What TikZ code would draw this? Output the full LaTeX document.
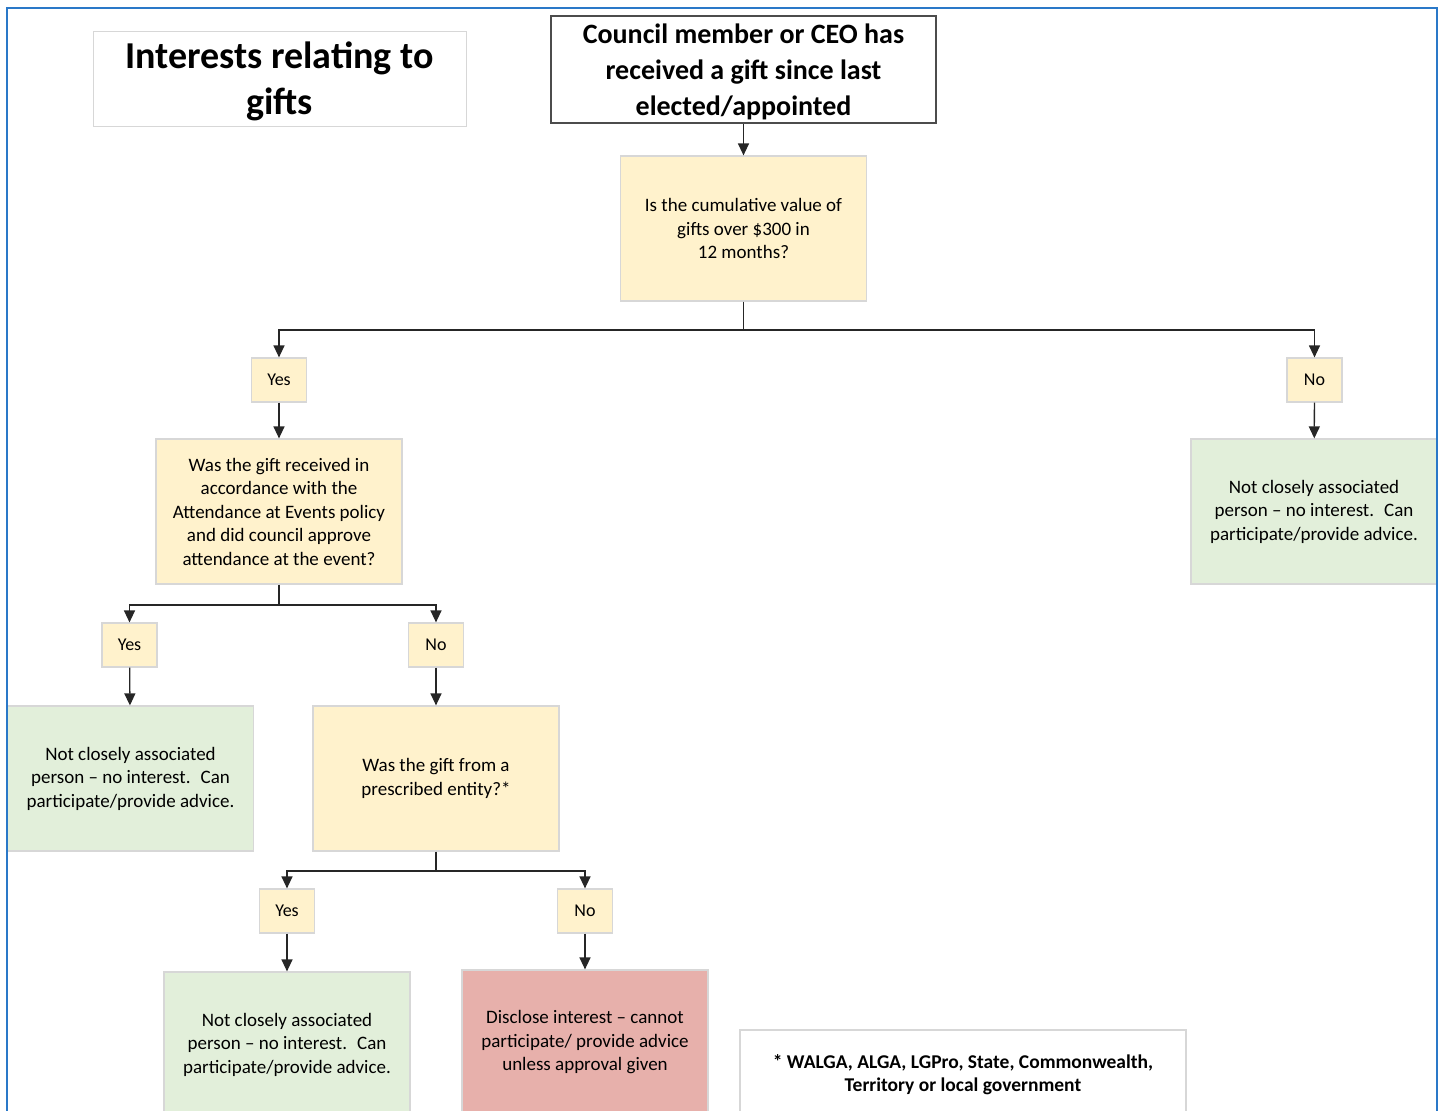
\documentclass[tikz,border=0pt]{standalone}
\usepackage{fontspec}
\setmainfont{Carlito}
\usetikzlibrary{arrows.meta}
\definecolor{qyellow}{RGB}{255,242,204}
\definecolor{okgreen}{RGB}{226,239,218}
\definecolor{stopred}{RGB}{231,176,171}
\definecolor{frameblue}{RGB}{42,120,200}
\definecolor{edgegray}{RGB}{215,215,215}

\begin{document}
\begin{tikzpicture}[x=1pt, y=-1pt,
        question/.style={rectangle, draw=edgegray, line width=1.2pt, fill=qyellow, minimum width=246pt, minimum height=145pt, align=center, font=\fontsize{19}{23.5}\selectfont},
        answer/.style={rectangle, draw=edgegray, line width=1.2pt, fill=qyellow, minimum width=55pt, minimum height=44pt, font=\fontsize{18}{20}\selectfont},
        outcome/.style={question, fill=okgreen},
        stopbox/.style={question, fill=stopred},
        flow/.style={-{Triangle[width=11pt,length=12pt]}, line width=1.3pt, draw=black!85}
    ]
        \useasboundingbox (0,0) rectangle (1444,1111);
        \clip (0,0) rectangle (1444,1111);

        % Heading and start
        \node[rectangle, draw=edgegray, line width=0.8pt, minimum width=373pt, minimum height=95pt, align=center, font=\fontsize{38}{46}\selectfont\bfseries] (title) at (279.5,78.5) {\rule{0pt}{32pt}Interests relating to\\gifts};
        \node[rectangle, draw=black!70, line width=2pt, minimum width=385pt, minimum height=107pt, align=center, font=\fontsize{28}{36}\selectfont\bfseries] (start) at (743.5,69.5) {\rule{0pt}{24pt}Council member or CEO has\\received a gift since last\\elected/appointed};

        % Question 1: cumulative value
        \node[question] (q1) at (743.5,228.5) {Is the cumulative value of\\gifts over \$300 in\\12 months?};
        \coordinate (q1_split) at (743.5,330);
        \node[answer] (q1_yes) at (279,380) {Yes};
        \node[answer] (q1_no) at (1314.5,380) {No};
        \node[outcome] (q1_no_out) at (1314,511.5) {Not closely associated\\person -- no interest.~ Can\\participate/provide advice.};
        \draw[flow] (start) -- (q1);
        \draw[line width=1.3pt, draw=black!85] (q1) -- (q1_split);
        \draw[flow] (q1_split) -| (q1_yes);
        \draw[flow] (q1_split) -| (q1_no);
        \draw[flow] (q1_no) -- (q1_no_out);

        % Question 2: attendance at events
        \node[question] (q2) at (279,511.5) {Was the gift received in\\accordance with the\\Attendance at Events policy\\and did council approve\\attendance at the event?};
        \coordinate (q2_split) at (279,605);
        \node[answer] (q2_yes) at (129.5,645) {Yes};
        \node[answer] (q2_no) at (436,645) {No};
        \node[outcome] (q2_yes_out) at (130.5,778.5) {Not closely associated\\person -- no interest.~ Can\\participate/provide advice.};
        \draw[flow] (q1_yes) -- (q2);
        \draw[line width=1.3pt, draw=black!85] (q2) -- (q2_split);
        \draw[flow] (q2_split) -| (q2_yes);
        \draw[flow] (q2_split) -| (q2_no);
        \draw[flow] (q2_yes) -- (q2_yes_out);

        % Question 3: prescribed entity
        \node[question] (q3) at (436,778.5) {Was the gift from a\\prescribed entity?*};
        \coordinate (q3_split) at (436,871);
        \node[answer] (q3_yes) at (287,911) {Yes};
        \node[answer] (q3_no) at (585,911) {No};
        \node[outcome] (q3_yes_out) at (287,1044.5) {Not closely associated\\person -- no interest.~ Can\\participate/provide advice.};
        \node[stopbox] (q3_no_out) at (585,1042.5) {Disclose interest -- cannot\\participate/ provide advice\\unless approval given};
        \draw[flow] (q2_no) -- (q3);
        \draw[line width=1.3pt, draw=black!85] (q3) -- (q3_split);
        \draw[flow] (q3_split) -| (q3_yes);
        \draw[flow] (q3_split) -| (q3_no);
        \draw[flow] (q3_yes) -- (q3_yes_out);
        \draw[flow] (q3_no) -- (q3_no_out);

        % Footnote
        \node[rectangle, draw=edgegray, line width=1.2pt, minimum width=446pt, minimum height=89pt, align=center, font=\fontsize{19.5}{23.5}\selectfont\bfseries] (note) at (963,1074.5) {* WALGA, ALGA, LGPro, State, Commonwealth,\\Territory or local government};

        % Frame
        \draw[frameblue, line width=2pt] (7,1120) -- (7,8) -- (1437,8) -- (1437,1120);

    \end{tikzpicture}
\end{document}
